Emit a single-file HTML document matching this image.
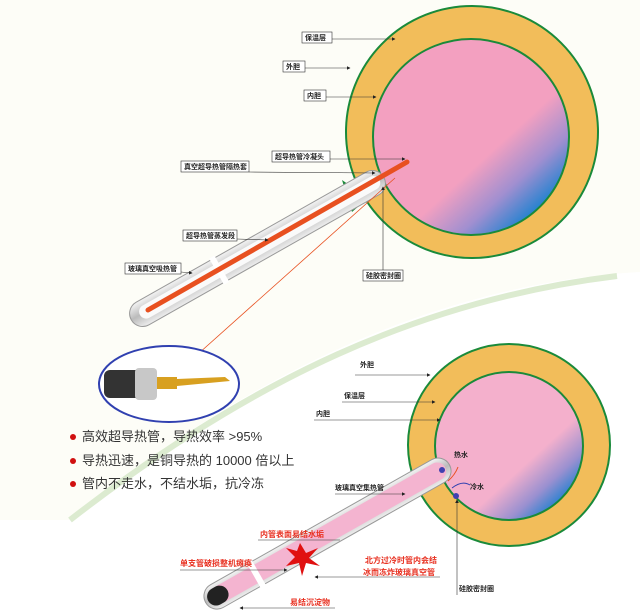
<!DOCTYPE html>
<html><head><meta charset="utf-8"><style>
html,body{margin:0;padding:0;background:#fff}
svg{display:block}
text{font-family:"Liberation Sans","Noto Sans CJK SC",sans-serif}
.lb{font-size:7px;font-weight:bold;fill:#222}
</style></head><body>
<svg width="640" height="612" viewBox="0 0 640 612" xmlns="http://www.w3.org/2000/svg">
<defs>
<linearGradient id="pk" x1="0.3" y1="0.3" x2="0.85" y2="0.9">
<stop offset="0.5" stop-color="#f3a0c0"/><stop offset="0.75" stop-color="#a08fd0"/><stop offset="1" stop-color="#1080d0"/></linearGradient>
<linearGradient id="pk2" x1="0.3" y1="0.3" x2="0.85" y2="0.9">
<stop offset="0.55" stop-color="#f4b0cc"/><stop offset="0.8" stop-color="#9a90d0"/><stop offset="1" stop-color="#1a7fd0"/></linearGradient>
<linearGradient id="gl" x1="0" y1="0" x2="0" y2="1">
<stop offset="0" stop-color="#f4f4f4"/><stop offset="0.5" stop-color="#bbb"/><stop offset="1" stop-color="#eee"/></linearGradient>
<marker id="ar" markerWidth="6" markerHeight="6" refX="5" refY="3" orient="auto"><path d="M0,0 L6,3 L0,6z" fill="#222"/></marker>
<marker id="ra" markerWidth="8" markerHeight="8" refX="7" refY="4" orient="auto"><path d="M0,0 L8,4 L0,8z" fill="#e85020"/></marker>
</defs>
<path d="M0,0 H640 V272 C500,280 300,330 70,520 L0,520 Z" fill="#fdfdf7"/>
<path d="M70,520 C250,380 420,300 617,276" stroke="#dcebd0" stroke-width="6" fill="none"/>
<!-- top tank -->
<circle cx="472" cy="132" r="126" fill="#f2bd5a" stroke="#1a8a3a" stroke-width="2"/>
<circle cx="471" cy="137" r="98" fill="url(#pk)" stroke="#1a8a3a" stroke-width="2"/>
<path d="M342,180 L352,212 L368,198 Z" fill="#1a8a3a"/>
<!-- top tube -->
<g transform="translate(140,315) rotate(-29.5)">
<rect x="-10" y="-13" width="290" height="26" rx="13" fill="url(#gl)" stroke="#999" stroke-width="1"/>
<rect x="0" y="-7" width="275" height="14" rx="7" fill="#fafafa"/>
<rect x="88" y="-15" width="6" height="30" fill="#fff"/>
</g>
<line x1="148" y1="310" x2="407" y2="162" stroke="#e85020" stroke-width="5" stroke-linecap="round"/>
<line x1="395" y1="178" x2="179" y2="371" stroke="#e85020" stroke-width="0.8" marker-end="url(#ra)"/>
<!-- top labels -->
<g class="lb">
<rect x="302" y="32" width="30" height="11" fill="#fff" stroke="#333" stroke-width="0.6"/><text x="305" y="40">保温层</text>
<line x1="332" y1="39" x2="395" y2="39" stroke="#333" stroke-width="0.6" marker-end="url(#ar)"/>
<rect x="283" y="61" width="22" height="11" fill="#fff" stroke="#333" stroke-width="0.6"/><text x="286" y="69">外胆</text>
<line x1="305" y1="68" x2="350" y2="68" stroke="#333" stroke-width="0.6" marker-end="url(#ar)"/>
<rect x="304" y="90" width="22" height="11" fill="#fff" stroke="#333" stroke-width="0.6"/><text x="307" y="98">内胆</text>
<line x1="326" y1="97" x2="376" y2="97" stroke="#333" stroke-width="0.6" marker-end="url(#ar)"/>
<rect x="272" y="151" width="58" height="11" fill="#fff" stroke="#333" stroke-width="0.6"/><text x="275" y="159">超导热管冷凝头</text>
<line x1="330" y1="159" x2="405" y2="159" stroke="#333" stroke-width="0.6" marker-end="url(#ar)"/>
<rect x="181" y="161" width="68" height="11" fill="#fff" stroke="#333" stroke-width="0.6"/><text x="184" y="169">真空超导热管隔热套</text>
<line x1="249" y1="172" x2="375" y2="173" stroke="#333" stroke-width="0.6" marker-end="url(#ar)"/>
<rect x="183" y="230" width="54" height="11" fill="#fff" stroke="#333" stroke-width="0.6"/><text x="186" y="238">超导热管蒸发段</text>
<line x1="237" y1="239" x2="268" y2="240" stroke="#333" stroke-width="0.6" marker-end="url(#ar)"/>
<rect x="125" y="263" width="56" height="11" fill="#fff" stroke="#333" stroke-width="0.6"/><text x="128" y="271">玻璃真空吸热管</text>
<line x1="181" y1="272" x2="192" y2="273" stroke="#333" stroke-width="0.6" marker-end="url(#ar)"/>
<rect x="363" y="270" width="40" height="11" fill="#fff" stroke="#333" stroke-width="0.6"/><text x="366" y="278">硅胶密封圈</text>
<line x1="383" y1="270" x2="383" y2="187" stroke="#333" stroke-width="0.6" marker-end="url(#ar)"/>
</g>
<!-- lens -->
<ellipse cx="169" cy="384" rx="70" ry="38" fill="#fff" stroke="#3040b0" stroke-width="2"/>
<rect x="104" y="370" width="50" height="28" rx="6" fill="#333"/>
<rect x="135" y="368" width="22" height="32" rx="4" fill="#c8c8c8"/>
<rect x="157" y="377" width="20" height="12" fill="#d8a020"/>
<polygon points="177,379 225,377 230,381 177,386" fill="#d8a020"/>
<!-- bullets -->
<g font-size="13" fill="#333">
<circle cx="73" cy="437" r="3" fill="#d01010"/><text x="82" y="441">高效超导热管，导热效率 &gt;95%</text>
<circle cx="73" cy="461" r="3" fill="#d01010"/><text x="82" y="465">导热迅速，是铜导热的 10000 倍以上</text>
<circle cx="73" cy="484" r="3" fill="#d01010"/><text x="82" y="488">管内不走水，不结水垢，抗冷冻</text>
</g>
<!-- bottom tank -->
<circle cx="509" cy="445" r="101" fill="#f2bd5a" stroke="#1a8a3a" stroke-width="2"/>
<circle cx="509" cy="446" r="74" fill="url(#pk2)" stroke="#1a8a3a" stroke-width="2"/>
<g transform="translate(210,600) rotate(-29.5)">
<rect x="-5" y="-13" width="280" height="26" rx="13" fill="url(#gl)" stroke="#999" stroke-width="1"/>
<rect x="2" y="-9" width="268" height="18" rx="9" fill="#f4b4d0"/>
<rect x="-2" y="-9" width="22" height="18" rx="9" fill="#222"/>
<rect x="50" y="-15" width="6" height="30" fill="#fff"/>
</g>
<circle cx="442" cy="470" r="3" fill="#4040b0"/><circle cx="456" cy="496" r="3" fill="#4040b0"/>
<path d="M448,481 Q455,475 458,467" stroke="#e85020" stroke-width="1" fill="none"/>
<path d="M470,485 Q462,480 452,488" stroke="#3040b0" stroke-width="1" fill="none"/>
<polygon points="300,543 306,553 318,548 309,558 320,566 306,563 302,576 299,563 286,566 295,557 286,548 297,551" fill="#e01010"/>
<g class="lb" font-size="7">
<text x="360" y="367">外胆</text><line x1="355" y1="375" x2="430" y2="375" stroke="#333" stroke-width="0.6" marker-end="url(#ar)"/>
<text x="344" y="398">保温层</text><line x1="342" y1="402" x2="435" y2="402" stroke="#333" stroke-width="0.6" marker-end="url(#ar)"/>
<text x="316" y="416">内胆</text><line x1="314" y1="420" x2="440" y2="420" stroke="#333" stroke-width="0.6" marker-end="url(#ar)"/>
<text x="454" y="457">热水</text><text x="470" y="489">冷水</text>
<text x="335" y="490">玻璃真空集热管</text><line x1="335" y1="494" x2="405" y2="494" stroke="#333" stroke-width="0.6" marker-end="url(#ar)"/>
<text x="459" y="591">硅胶密封圈</text><line x1="457" y1="595" x2="457" y2="500" stroke="#333" stroke-width="0.6" marker-end="url(#ar)"/>
</g>
<g font-size="8" fill="#e83020" font-weight="bold">
<text x="260" y="537">内管表面易结水垢</text><line x1="258" y1="540" x2="340" y2="540" stroke="#333" stroke-width="0.6"/>
<text x="180" y="566">单支管破损整机瘫痪</text><line x1="180" y1="570" x2="287" y2="570" stroke="#333" stroke-width="0.6" marker-end="url(#ar)"/>
<text x="365" y="563">北方过冷时管内会结</text><text x="363" y="575">冰而冻炸玻璃真空管</text>
<line x1="440" y1="577" x2="315" y2="577" stroke="#333" stroke-width="0.6" marker-end="url(#ar)"/>
<text x="290" y="612" dy="-7">易结沉淀物</text><line x1="335" y1="608" x2="240" y2="608" stroke="#333" stroke-width="0.6" marker-end="url(#ar)"/>
</g>
</svg>
</body></html>
